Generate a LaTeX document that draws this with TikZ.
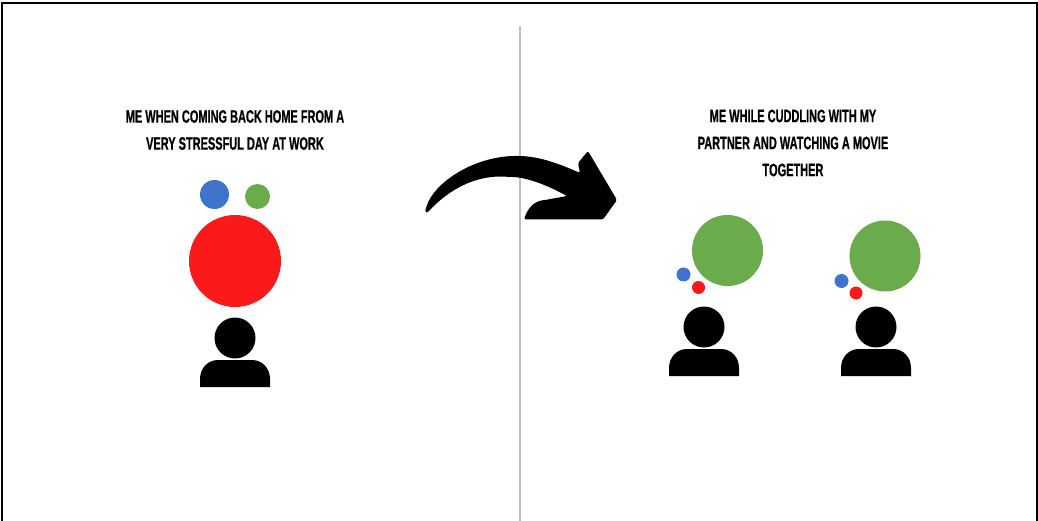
\documentclass[tikz,border=0pt]{standalone}
\usepackage{fontspec}
\setmainfont{Liberation Sans}
\newfontfamily\capfont[FakeStretch=0.61,BoldFeatures={FakeBold=0.6}]{Liberation Sans}
\definecolor{cblue}{HTML}{3F74CC}
\definecolor{cgreen}{HTML}{6AAB4C}
\definecolor{cred}{HTML}{FB1A1A}
\begin{document}
\begin{tikzpicture}[x=1pt,y=-1pt,
  ball/.style={circle,inner sep=0pt,minimum size=#1},
  capt/.style={font=\capfont\bfseries\fontsize{18}{27}\selectfont,align=center,text=black,inner sep=0pt}]
\useasboundingbox (0,0) rectangle (1038,521);
\fill[white] (0,0) rectangle (1038,521);
\draw[black,line width=1.5pt] (2,521) -- (2,3) -- (1037,3) -- (1037,521);
\coordinate (t) at (520,26); \coordinate (b) at (520,521);
\draw[gray!50,line width=1.3pt] (t) -- (b);
\node[capt] (c1) at (235,130) {ME WHEN COMING BACK HOME FROM A\\VERY STRESSFUL DAY AT WORK};
\node[capt] (c2) at (793,143) {ME WHILE CUDDLING WITH MY\\PARTNER AND WATCHING A MOVIE\\TOGETHER};
\def\person#1#2{%
 \fill (#1,#2) circle (20.5);
 \fill (#1-35,#2+49) -- (#1-35,#2+41) .. controls (#1-35,#2+30) and (#1-27,#2+22) .. (#1-17,#2+22) -- (#1+17,#2+22) .. controls (#1+27,#2+22) and (#1+35,#2+30) .. (#1+35,#2+41) -- (#1+35,#2+49) -- cycle;}
\person{235}{338}\person{704}{327}\person{876}{327}
\node[ball=29pt,fill=cblue] (a1) at (214.5,194.5) {};
\node[ball=25pt,fill=cgreen] (a2) at (257.5,196.5) {};
\node[ball=92pt,fill=cred] (a3) at (235,261) {};
\node[ball=71pt,fill=cgreen] (b1) at (727.5,250.5) {};
\node[ball=14pt,fill=cblue] (b2) at (683.5,274.5) {};
\node[ball=13pt,fill=cred] (b3) at (698.5,287.5) {};
\node[ball=71pt,fill=cgreen] (d1) at (885,256) {};
\node[ball=14pt,fill=cblue] (d2) at (841.5,281) {};
\node[ball=13pt,fill=cred] (d3) at (856,293) {};
\fill[rounded corners=1.5pt] (425,212) -- (426,208) .. controls (434,182) and (475,156) .. (517,156) .. controls (540,156) and (562,165) .. (580,173) -- (578,163) -- (588,151) -- (617,200) -- (603,219.5) -- (524,219.5) .. controls (528,207) and (535,201) .. (545,200) -- (567,196) .. controls (545,184) and (525,177) .. (510,177) .. controls (478,174) and (450,188) .. (427,213) -- cycle;
\end{tikzpicture}
\end{document}
